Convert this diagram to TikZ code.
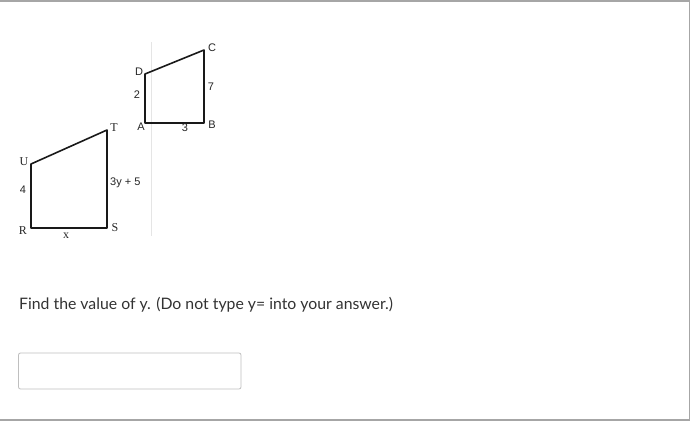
\documentclass[tikz,border=0pt]{standalone}
\usepackage{fontspec}
\setmainfont{Lato}
\newfontfamily\figsans{Liberation Sans}
\newfontfamily\figserif{Liberation Serif}
\begin{document}
\begin{tikzpicture}[x=1pt,y=-1pt,
  edge/.style={draw=black!90,line width=1.6pt,line join=round},
  lbl/.style={inner sep=0pt,font=\figsans\fontsize{11}{13}\selectfont,text=black!85},
  slbl/.style={inner sep=0pt,font=\figserif\fontsize{12}{14}\selectfont,text=black!85},
  frame/.style={draw=black!35,line width=1.2pt}]
\useasboundingbox (0,0) rectangle (692,423);
\fill[white] (0,0) rectangle (692,423);
% outer frame
\draw[frame] (0,1) -- (689.5,1) -- (689.5,420) -- (0,420);
% faint scan line
\draw[black!10,line width=0.8pt] (151,42) -- (151,236);
% small quadrilateral ABCD
\coordinate (A) at (145,123);
\coordinate (B) at (204,123);
\coordinate (C) at (204,50);
\coordinate (D) at (145,74);
\draw[edge] (A) -- (B) -- (C) -- (D) -- cycle;
\node[lbl] (lD) at (139,72) {D};
\node[lbl] (lC) at (212,48) {C};
\node[lbl] (lB) at (212,125) {B};
\node[lbl] (lA) at (141,127) {A};
\node[lbl] (l7) at (211,87) {7};
\node[lbl] (l2) at (137,95) {2};
\node[lbl] (l3) at (185,128) {3};
% large quadrilateral RSTU
\coordinate (R) at (31,228);
\coordinate (S) at (107,228);
\coordinate (T) at (107,130);
\coordinate (U) at (31,164);
\draw[edge] (R) -- (S) -- (T) -- (U) -- cycle;
\node[slbl] (lU) at (24,162) {U};
\node[slbl] (lT) at (114,128) {T};
\node[slbl] (lS) at (115,228) {S};
\node[slbl] (lR) at (23,231) {R};
\node[slbl] (lx) at (66,236) {x};
\node[lbl] (l4) at (23,190) {4};
\node[lbl,anchor=west] (l3y) at (110,183) {3y + 5};
% question text
\node[anchor=base west,inner sep=0pt,font=\fontsize{15.8}{19}\selectfont,text=black!80] (q) at (19,309) {Find the value of y. (Do not type y= into your answer.)};
% answer box
\draw[draw=black!25,line width=0.8pt,rounded corners=2pt] (18.5,353) rectangle (241,389);
\end{tikzpicture}
\end{document}
